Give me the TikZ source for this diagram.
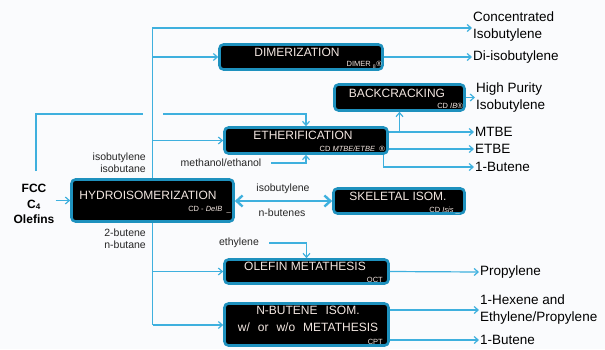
\documentclass[tikz,border=0pt]{standalone}
\usepackage{fontspec}
\setmainfont{Liberation Sans}
\usetikzlibrary{arrows.meta,calc}
\definecolor{bgc}{RGB}{250,251,253}
\definecolor{flowc}{RGB}{62,176,222}
\definecolor{edgec}{RGB}{30,145,190}
\definecolor{boxtxt}{RGB}{242,230,224}
\tikzset{
  procbox/.style={draw=edgec, line width=2.6pt, fill=black, rounded corners=4pt, inner sep=0pt},
  btxt/.style={text=boxtxt, font=\fontsize{12}{17}\selectfont, inner sep=0pt, align=center},
  stxt/.style={text=boxtxt, font=\fontsize{7.5}{9}\selectfont, inner sep=0pt, anchor=east},
  lbl/.style={font=\fontsize{10.5}{12}\selectfont, text=black!85, inner sep=0pt, align=center},
  outlbl/.style={font=\fontsize{13.5}{17}\selectfont, inner sep=1pt, align=left, anchor=west},
  flow/.style={draw=flowc, line width=1.2pt},
  arr/.style={flow, -{Straight Barb[length=4pt,width=7pt]}},
  dblarr/.style={draw=flowc, line width=2.4pt, {Straight Barb[length=6pt,width=11pt]}-{Straight Barb[length=6pt,width=11pt]}}
}
\begin{document}
\begin{tikzpicture}[x=1pt,y=-1pt]
\fill[bgc] (0,0) rectangle (605,349);
\useasboundingbox (0,0) rectangle (605,349);

% process boxes
\node[procbox, minimum width=163pt, minimum height=25pt] (dim) at (301,57) {};
\node[btxt] (dimT) at (297,52) {DIMERIZATION};
\node[stxt] (dimS) at (382,65) {DIMER~\textsubscript{8}®};

\node[procbox, minimum width=130pt, minimum height=26pt] (back) at (399.5,97.5) {};
\node[btxt] (backT) at (397,93) {BACKCRACKING};
\node[stxt] (backS) at (463,106) {CD \textit{IB}®};

\node[procbox, minimum width=163pt, minimum height=26pt] (eth) at (306,140.5) {};
\node[btxt] (ethT) at (303,135) {ETHERIFICATION};
\node[stxt] (ethS) at (385,149) {CD \textit{MTBE/ETBE}\ \ ®};

\node[procbox, minimum width=162pt, minimum height=42pt] (hyd) at (152.5,200.5) {};
\node[btxt] (hydT) at (148,195) {HYDROISOMERIZATION};
\node[stxt] (hydS) at (231,210) {CD - \textit{DeIB}\ \ \_};

\node[procbox, minimum width=131pt, minimum height=25pt] (skel) at (399,201) {};
\node[btxt] (skelT) at (398,196) {SKELETAL ISOM.};
\node[stxt] (skelS) at (460,211) {CD \textit{Isis} \_};

\node[procbox, minimum width=164pt, minimum height=24pt] (olef) at (306.5,271.5) {};
\node[btxt] (olefT) at (305,266) {OLEFIN METATHESIS};
\node[stxt] (olefS) at (383,280) {OCT};

\node[procbox, minimum width=164pt, minimum height=42pt] (nbut) at (306.5,324.5) {};
\node[btxt] (nbutT) at (308,318.5) {N-BUTENE\hspace{8pt}ISOM.\\w/\hspace{8pt}or\hspace{8pt}w/o\hspace{8pt}METATHESIS};
\node[stxt] (nbutS) at (383,342) {CPT};

% feed
\node[font=\bfseries\fontsize{12}{15.5}\selectfont, align=center, inner sep=1pt] (fcc) at (34,204) {FCC\\C\textsubscript{4}\\Olefins};

% labels
\node[lbl, anchor=east, align=right] (iso) at (146,163) {isobutylene\\isobutane};
\node[lbl, anchor=east, align=right] (nbl) at (146,239) {2-butene\\n-butane};
\node[lbl] (meth) at (221,163) {methanol/ethanol};
\node[lbl] (ethy) at (239,243) {ethylene};
\node[lbl] (ib2) at (283,189) {isobutylene};
\node[lbl] (nb2) at (282,213) {n-butenes};

% outputs
\node[outlbl] (conc) at (472,27) {Concentrated\\Isobutylene};
\node[outlbl] (di) at (472,57) {Di-isobutylene};
\node[outlbl] (hp) at (475,97.5) {High Purity\\Isobutylene};
\node[outlbl] (mtbe) at (474,132) {MTBE};
\node[outlbl] (etbe) at (474,149) {ETBE};
\node[outlbl] (but1) at (474,167) {1-Butene};
\node[outlbl] (prop) at (479,272) {Propylene};
\node[outlbl] (hex) at (479,310) {1-Hexene and\\Ethylene/Propylene};
\node[outlbl] (but2) at (479,340) {1-Butene};

% trunk
\coordinate (tTop) at (152.5,28);
\coordinate (tBot) at (152.5,325);
\draw[arr] (hyd.north) -- (tTop) -- (conc.west |- tTop);
\draw[arr] (tTop |- dim.west) -- (dim.west);
\draw[arr] (tTop |- eth.west) -- (eth.west);
\draw[flow] (hyd.south) -- (tBot);
\draw[arr] (tBot) -- (tBot -| nbut.west);
\draw[arr] (tBot |- olef.west) -- (olef.west);

% feed lines
\draw[arr] (fcc.east |- hyd.west) -- (hyd.west);
\coordinate (fccTop) at (36,171);
\coordinate (fccTurn) at (36,114);
\coordinate (gapL) at (143,114);
\coordinate (gapR) at (163,114);
\draw[flow] (fccTop) -- (fccTurn) -- (gapL);
\draw[arr] (gapR) -- (gapR -| eth.north) -- (eth.north);
\draw[arr] ([xshift=10pt]meth.east) -| (eth.south);
\draw[arr] ([xshift=10pt]ethy.east) -| (olef.north);

% skeletal isomerization loop
\draw[dblarr] (hyd.east |- skel.west) -- (skel.west);

% outputs
\draw[arr] (dim.east) -- (di.west);
\draw[arr] (back.east) -- (hp.west);
\draw[arr] (eth.east |- mtbe.west) -- (mtbe.west);
\draw[arr] (back.south |- mtbe.west) -- (back.south);
\draw[arr] (eth.east |- etbe.west) -- (etbe.west);
\draw[arr] ([xshift=-5pt]eth.south east) |- (but1.west);
\draw[arr] (olef.east) -- (prop.west);
\draw[arr] (nbut.east |- hex.west) -- (hex.west);
\draw[arr] (nbut.east |- but2.west) -- (but2.west);
\end{tikzpicture}
\end{document}
